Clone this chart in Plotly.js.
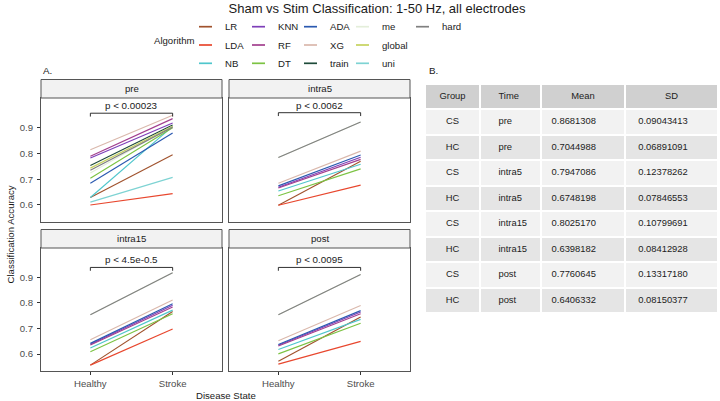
<!DOCTYPE html>
<html>
<head>
<meta charset="utf-8">
<script src="https://cdn.plot.ly/plotly-3.0.1.min.js"></script>
<style>
  html, body { margin: 0; padding: 0; background: #ffffff; }
  #chart { width: 720px; height: 401px; }
</style>
</head>
<body>
<div id="chart"></div>
<script>
// ---- data -------------------------------------------------------------
const algorithms = ['LR', 'LDA', 'NB', 'KNN', 'RF', 'DT', 'ADA', 'XG', 'train', 'me', 'global', 'uni', 'hard'];
const algoColors = ['#A0522D', '#E8472E', '#4FC6CC', '#7E3FB8', '#A23F8E', '#7CC343', '#2B59B0',
                    '#DAB8AC', '#1E4B3A', '#E4EEDA', '#C6D35E', '#7ED3D3', '#808080'];
const diseaseStates = ['Healthy', 'Stroke'];
const timepoints = ['pre', 'intra5', 'intra15', 'post'];
const pLabels = ['p < 0.00023', 'p < 0.0062', 'p < 4.5e-0.5', 'p < 0.0095'];
const bracketY = [0.956, 0.958, 0.939, 0.939];
const accuracyTicks = [0.6, 0.7, 0.8, 0.9];
const accuracyTickText = ['0.6', '0.7', '0.8', '0.9'];

// classification accuracy per algorithm (same order as `algorithms`)
const preHealthy     = [0.629, 0.600, 0.629, 0.782, 0.789, 0.704, 0.684, 0.814, 0.753, 0.724, 0.743, 0.611, 0.735];
const preStroke      = [0.795, 0.644, 0.905, 0.918, 0.935, 0.900, 0.879, 0.948, 0.910, 0.905, 0.905, 0.707, 0.902];
const intra5Healthy  = [0.599, 0.599, 0.654, 0.669, 0.666, 0.636, 0.674, 0.684, null, 0.784, null, null, 0.784];
const intra5Stroke   = [0.770, 0.677, 0.758, 0.785, 0.777, 0.740, 0.794, 0.809, null, 0.922, null, null, 0.922];
const intra15Healthy = [0.557, 0.557, 0.624, 0.639, 0.636, 0.609, 0.642, 0.656, null, 0.754, null, null, 0.754];
const intra15Stroke  = [0.767, 0.698, 0.772, 0.791, 0.784, 0.758, 0.797, 0.812, null, 0.918, null, null, 0.918];
const postHealthy    = [0.572, 0.561, 0.618, 0.635, 0.632, 0.601, 0.638, 0.652, null, 0.754, null, null, 0.754];
const postStroke     = [0.745, 0.650, 0.736, 0.765, 0.758, 0.721, 0.770, 0.790, null, 0.911, null, null, 0.911];

const healthyByTime = [preHealthy, intra5Healthy, intra15Healthy, postHealthy];
const strokeByTime  = [preStroke, intra5Stroke, intra15Stroke, postStroke];

// summary table
const tableHeader = ['Group', 'Time', 'Mean', 'SD'];
const tableGroup  = ['CS', 'HC', 'CS', 'HC', 'CS', 'HC', 'CS', 'HC'];
const tableTime   = ['pre', 'pre', 'intra5', 'intra5', 'intra15', 'intra15', 'post', 'post'];
const tableMean   = ['0.8681308', '0.7044988', '0.7947086', '0.6748198', '0.8025170', '0.6398182', '0.7760645', '0.6406332'];
const tableSD     = ['0.09043413', '0.06891091', '0.12378262', '0.07846553', '0.10799691', '0.08412928', '0.13317180', '0.08150377'];

// ---- layout helpers ---------------------------------------------------
const W = 720, H = 401;
const FONT = 'Liberation Sans, Arial, sans-serif';
const px = v => v / W;
const py = v => 1 - v / H;

const panelLeft = [41, 229];
const panelWidth = 181;
const panelTop = [98, 248];
const panelHeight = [124, 123];
const stripHeight = 18.5;
const yRange = [0.534, 1.015];
const borderColor = '#555555';

const traces = [];
const shapes = [];
const annotations = [];
const layout = {
  width: W, height: H,
  margin: { l: 0, r: 0, t: 0, b: 0, pad: 0 },
  paper_bgcolor: '#ffffff',
  plot_bgcolor: '#ffffff',
  showlegend: false,
  font: { family: FONT, size: 9.6, color: '#1a1a1a' },
  title: {
    text: 'Sham vs Stim Classification: 1-50 Hz, all electrodes',
    x: px(377), xanchor: 'center', xref: 'paper',
    y: py(8), yanchor: 'middle', yref: 'container',
    font: { family: FONT, size: 13, color: '#1a1a1a' }
  }
};

timepoints.forEach((tp, i) => {
  const col = i % 2, row = Math.floor(i / 2);
  const n = i === 0 ? '' : String(i + 1);
  const xId = 'x' + n, yId = 'y' + n;

  // one line per algorithm, Healthy -> Stroke
  algorithms.forEach((alg, k) => {
    const h = healthyByTime[i][k], s = strokeByTime[i][k];
    if (h === null || s === null) return;
    traces.push({
      type: 'scatter', mode: 'lines',
      x: diseaseStates, y: [h, s],
      xaxis: xId, yaxis: yId,
      name: alg,
      line: { color: algoColors[k], width: 1.15 },
      hoverinfo: 'name+y'
    });
  });

  // significance bracket
  const tip = 0.013;
  traces.push({
    type: 'scatter', mode: 'lines',
    x: [diseaseStates[0], diseaseStates[0], diseaseStates[1], diseaseStates[1]],
    y: [bracketY[i] - tip, bracketY[i], bracketY[i], bracketY[i] - tip],
    xaxis: xId, yaxis: yId,
    line: { color: '#1a1a1a', width: 0.9 },
    hoverinfo: 'skip'
  });
  annotations.push({
    xref: xId + ' domain', yref: yId,
    x: 0.5, y: bracketY[i], yshift: 0,
    xanchor: 'center', yanchor: 'bottom',
    text: pLabels[i], showarrow: false,
    font: { family: FONT, size: 9.8, color: '#1a1a1a' }
  });

  const x0 = panelLeft[col], y0 = panelTop[row], ph = panelHeight[row];
  layout['xaxis' + n] = {
    domain: [px(x0), px(x0 + panelWidth)],
    anchor: yId,
    type: 'category',
    categoryarray: diseaseStates,
    range: [-0.6, 1.6],
    showgrid: false, zeroline: false,
    showline: true, mirror: true, linecolor: borderColor, linewidth: 1,
    ticks: row === 1 ? 'outside' : '',
    ticklen: 3, tickwidth: 1, tickcolor: '#333333',
    showticklabels: row === 1,
    tickfont: { family: FONT, size: 9.6, color: '#4d4d4d' },
    fixedrange: true
  };
  layout['yaxis' + n] = {
    domain: [py(y0 + ph), py(y0)],
    anchor: xId,
    range: yRange,
    tickmode: 'array',
    tickvals: accuracyTicks,
    ticktext: accuracyTickText,
    showgrid: false, zeroline: false,
    showline: true, mirror: true, linecolor: borderColor, linewidth: 1,
    ticks: col === 0 ? 'outside' : '',
    ticklen: 3, tickwidth: 1, tickcolor: '#333333',
    showticklabels: col === 0,
    ticklabelstandoff: 2,
    tickfont: { family: FONT, size: 9.6, color: '#4d4d4d' },
    fixedrange: true
  };

  // facet strip
  shapes.push({
    type: 'rect', xref: xId + ' domain', yref: yId + ' domain',
    x0: 0, x1: 1, y0: 1, y1: 1 + stripHeight / ph,
    fillcolor: '#F2F2F2', line: { color: borderColor, width: 1 }, layer: 'above'
  });
  annotations.push({
    xref: xId + ' domain', yref: yId + ' domain',
    x: 0.5, y: 1 + stripHeight / 2 / ph,
    xanchor: 'center', yanchor: 'middle',
    text: tp, showarrow: false,
    font: { family: FONT, size: 9.6, color: '#1a1a1a' }
  });
});

// axis titles and panel tags
annotations.push(
  { xref: 'paper', yref: 'paper', x: px(10), y: py(234.5), textangle: -90,
    xanchor: 'center', yanchor: 'middle', showarrow: false,
    text: 'Classification Accuracy', font: { family: FONT, size: 9.6, color: '#1a1a1a' } },
  { xref: 'paper', yref: 'paper', x: px(225.5), y: py(395.5),
    xanchor: 'center', yanchor: 'middle', showarrow: false,
    text: 'Disease State', font: { family: FONT, size: 9.6, color: '#1a1a1a' } },
  { xref: 'paper', yref: 'paper', x: px(41), y: py(70),
    xanchor: 'left', yanchor: 'middle', showarrow: false,
    text: 'A.', font: { family: FONT, size: 9.8, color: '#1a1a1a' } },
  { xref: 'paper', yref: 'paper', x: px(427), y: py(70),
    xanchor: 'left', yanchor: 'middle', showarrow: false,
    text: 'B.', font: { family: FONT, size: 9.8, color: '#1a1a1a' } }
);

// legend: 3 rows, filled column by column
const legendColX = [199, 252, 304, 356, 416];
const legendRowY = [26.7, 45, 63.3];
const keyLen = 13, keyGap = 11;
annotations.push({
  xref: 'paper', yref: 'paper', x: px(151.5), y: py(40),
  xanchor: 'left', yanchor: 'middle', showarrow: false,
  text: 'Algorithm', font: { family: FONT, size: 9.6, color: '#1a1a1a' }
});
algorithms.forEach((alg, k) => {
  const c = Math.floor(k / 3), r = k % 3;
  const lx = legendColX[c], ly = legendRowY[r];
  shapes.push({
    type: 'line', xref: 'paper', yref: 'paper',
    x0: px(lx), x1: px(lx + keyLen), y0: py(ly), y1: py(ly),
    line: { color: algoColors[k], width: 1.7 }
  });
  annotations.push({
    xref: 'paper', yref: 'paper', x: px(lx + keyLen + keyGap), y: py(ly),
    xanchor: 'left', yanchor: 'middle', showarrow: false,
    text: alg, font: { family: FONT, size: 9.6, color: '#1a1a1a' }
  });
});

// summary table
const nbsp = '\u00a0';
const rowFill = tableGroup.map((g, r) => (r % 2 === 0 ? '#F2F2F2' : '#E5E5E5'));
traces.push({
  type: 'table',
  domain: { x: [px(425), px(718)], y: [py(313), py(84)] },
  columnwidth: [55, 61, 84, 93],
  header: {
    values: tableHeader.map((t, j) => (j === 1 ? nbsp.repeat(4) + t : t)),
    align: ['center', 'left', 'center', 'center'],
    height: 25,
    fill: { color: '#D0D0D0' },
    line: { color: '#ffffff', width: 2 },
    font: { family: FONT, size: 9.4, color: '#222222' }
  },
  cells: {
    values: [
      tableGroup,
      tableTime.map(t => nbsp.repeat(4) + t),
      tableMean.map(v => nbsp + v),
      tableSD.map(v => nbsp.repeat(2) + v)
    ],
    align: ['center', 'left', 'left', 'left'],
    height: 25.5,
    fill: { color: [rowFill, rowFill, rowFill, rowFill] },
    line: { color: '#ffffff', width: 2 },
    font: { family: FONT, size: 9.4, color: '#222222' }
  }
});

layout.shapes = shapes;
layout.annotations = annotations;

Plotly.newPlot('chart', traces, layout, { displayModeBar: false, staticPlot: true });
</script>
</body>
</html>
